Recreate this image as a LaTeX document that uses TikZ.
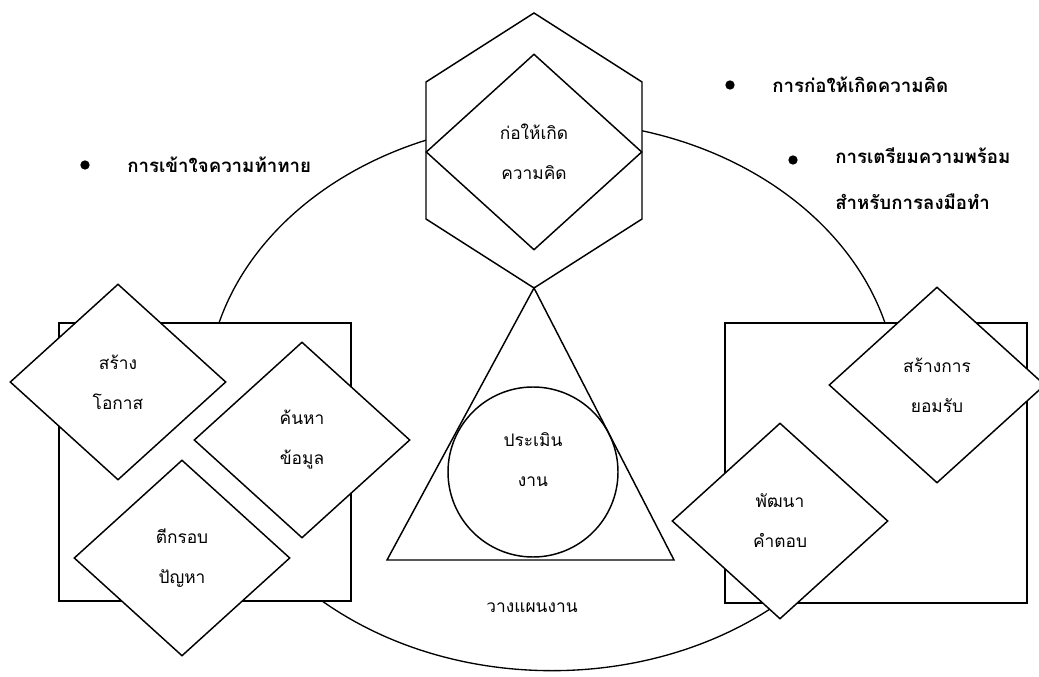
\documentclass[tikz,border=0pt]{standalone}
\usepackage{fontspec}
\newfontfamily\thaifont[Script=Thai]{Loma}
\usetikzlibrary{shapes.geometric}

\tikzset{
  kite/.style={diamond, draw, line width=1.1pt, fill=white, minimum width=162pt, minimum height=147pt, inner sep=0pt, align=center, font=\thaifont\fontsize{13}{30}\selectfont},
  plainbox/.style={draw, line width=1.1pt, fill=white},
  lbl/.style={inner sep=0pt, align=center, font=\thaifont\fontsize{13}{30}\selectfont},
  head/.style={anchor=west, inner sep=0pt, align=left, font=\thaifont\bfseries\fontsize{14}{35}\selectfont},
  dot/.style={circle, fill, inner sep=0pt, minimum size=7pt},
}

\begin{document}
\begin{tikzpicture}[x=0.75pt,y=0.75pt,yscale=-1,xscale=1]
	\useasboundingbox (0,0) rectangle (1039,677);
	% big cycle
	\draw [line width=1pt] (552,396) ellipse [x radius=259pt, y radius=206pt];
	% left and right frames
	\draw [plainbox] (59,323) rectangle (351,601);
	\draw [plainbox] (725,323) rectangle (1027,603);
	% hexagon on top
	\draw [plainbox] (534,13) -- (642,82) -- (642,219) -- (534,288) -- (426,219) -- (426,82) -- cycle;
	\node [kite] (idea) at (534,152) {ก่อให้เกิด\\ความคิด};
	% triangle and circle
	\draw [plainbox] (534,288) -- (674,560) -- (387,560) -- cycle;
	\node [circle, draw, line width=1.1pt, minimum size=127.5pt, inner sep=0pt] (evalring) at (533,472) {};
	\node [lbl] (evaltxt) at (533,460) {ประเมิน\\งาน};
	\node [lbl] (plan) at (532,608) {วางแผนงาน};
	% left group
	\node [kite] (chance) at (118,382) {สร้าง\\โอกาส};
	\node [kite] (search) at (302,440) {ค้นหา\\ข้อมูล};
	\node [kite] (frame) at (182,558) {ตีกรอบ\\ปัญหา};
	% right group
	\node [kite] (accept) at (937,385) {สร้างการ\\ยอมรับ};
	\node [kite] (answer) at (780,521) {พัฒนา\\คำตอบ};
	% bullet texts
	\node [dot] (b1) at (730,85) {};
	\node [head] (h1) at (772,85) {การก่อให้เกิดความคิด};
	\node [dot] (b2) at (793,160) {};
	\node [head, anchor=north west] (h2) at (835,147) {การเตรียมความพร้อม\\สำหรับการลงมือทำ};
	\node [dot] (b3) at (85,165) {};
	\node [head] (h3) at (127,165) {การเข้าใจความท้าทาย};
\end{tikzpicture}
\end{document}
